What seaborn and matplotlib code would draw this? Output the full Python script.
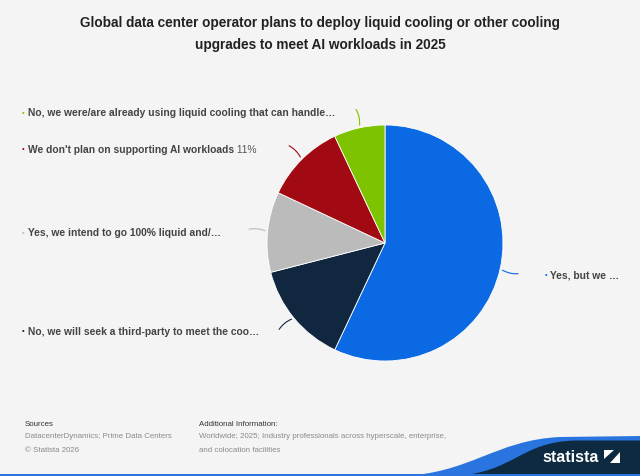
import numpy as np
import matplotlib.pyplot as plt
from matplotlib.path import Path
from matplotlib.patches import PathPatch, Rectangle, Polygon
import seaborn as sns

# Data (shares in %)
categories = [
    "Yes, but we …",
    "No, we will seek a third-party to meet the coo…",
    "Yes, we intend to go 100% liquid and/…",
    "We don't plan on supporting AI workloads",
    "No, we were/are already using liquid cooling that can handle…",
]
shares = [57, 14, 11, 11, 7]
show_value = [False, False, False, True, False]
slice_colors = ["#0a69e3", "#11263f", "#bbbbbb", "#a10a12", "#7dc300"]

title = ("Global data center operator plans to deploy liquid cooling or other cooling\n"
         "upgrades to meet AI workloads in 2025")

sns.set_theme(style="white")
plt.rcParams["font.family"] = ["Liberation Sans", "DejaVu Sans"]

bg = "#f4f4f4"
fig = plt.figure(figsize=(6.4, 4.76), dpi=100, facecolor=bg)

# full-figure pixel axes for decoration (footer, wave, labels)
deco = fig.add_axes([0, 0, 1, 1], zorder=0)
deco.set_xlim(0, 640)
deco.set_ylim(476, 0)
deco.axis("off")

# Pie axes: centre ~ (385, 243) px, radius ~118 px
cx, cy, r = 385, 243, 118
ax = fig.add_axes([(cx - r) / 640, (476 - cy - r) / 476, 2 * r / 640, 2 * r / 476], zorder=2)
palette = sns.color_palette(slice_colors)
wedges, _ = ax.pie(
    shares,
    colors=palette,
    startangle=90,
    counterclock=False,
    radius=1,
    wedgeprops=dict(edgecolor="white", linewidth=0.6),
)
ax.set_xlim(-1, 1)
ax.set_ylim(-1, 1)
ax.set_aspect("equal")
ax.axis("off")

# Leader lines from wedge middles
for w, col in zip(wedges, slice_colors):
    ang = np.deg2rad((w.theta1 + w.theta2) / 2)
    x0, y0 = np.cos(ang), np.sin(ang)
    ax.annotate(
        "", xy=(1.18 * x0, 1.18 * y0), xytext=(1.0 * x0, 1.0 * y0),
        arrowprops=dict(arrowstyle="-", color=col, lw=0.8,
                        connectionstyle="arc3,rad=0.2"),
        annotation_clip=False,
    )

# Labels (layout in pixel positions, order same as categories)
label_x = [545, 22, 22, 22, 22]
label_y = [275, 332, 233, 150, 113]
text_col = "#444444"
for cat, val, show, col, lx, ly in zip(categories, shares, show_value,
                                       slice_colors, label_x, label_y):
    deco.text(lx, ly, "•", color=col, fontsize=5.5, va="center", ha="left")
    t = deco.text(lx + 5.5, ly, cat, color=text_col, fontsize=7.35,
                  fontweight="bold", va="center", ha="left")
    if show:
        deco.annotate(f" {val}%", xy=(1, 0.5), xycoords=t, va="center",
                      ha="left", fontsize=7.35, color="#555555")

# Title
fig.text(0.5, 1 - 16 / 476, title, ha="center", va="top", fontsize=9.85,
         fontweight="bold", color="#222222", linespacing=1.7)

# Footer texts
fs = 5.7
deco.text(25, 425, "Sources", fontsize=fs, color="#333333", va="center")
deco.text(25, 437, "DatacenterDynamics; Prime Data Centers", fontsize=fs,
          color="#8a8a8a", va="center")
deco.text(25, 450, "© Statista 2026", fontsize=fs, color="#8a8a8a", va="center")
deco.text(199, 425, "Additional Information:", fontsize=fs, color="#333333", va="center")
deco.text(199, 437, "Worldwide; 2025; Industry professionals across hyperscale, enterprise,",
          fontsize=fs, color="#8a8a8a", va="center")
deco.text(199, 450, "and colocation facilities", fontsize=fs, color="#8a8a8a", va="center")

# Statista wave
blue_wave = Path(
    [(400, 476), (470, 474), (495, 440), (560, 437), (640, 436), (640, 476), (400, 476)],
    [Path.MOVETO, Path.CURVE4, Path.CURVE4, Path.CURVE4, Path.LINETO, Path.LINETO, Path.CLOSEPOLY],
)
deco.add_patch(PathPatch(blue_wave, facecolor="#2a74e0", edgecolor="none"))
navy_wave = Path(
    [(455, 476), (515, 472), (520, 442), (575, 440.5), (640, 440.5), (640, 476), (455, 476)],
    [Path.MOVETO, Path.CURVE4, Path.CURVE4, Path.CURVE4, Path.LINETO, Path.LINETO, Path.CLOSEPOLY],
)
deco.add_patch(PathPatch(navy_wave, facecolor="#0d2a40", edgecolor="none"))
deco.add_patch(Rectangle((0, 473.5), 640, 3, facecolor="#2a74e0", edgecolor="none"))

deco.text(571, 457, "statista", color="white", fontsize=11.5, fontweight="bold",
          ha="center", va="center")
deco.add_patch(Rectangle((604, 450), 16, 13, facecolor="white", edgecolor="none"))
deco.add_patch(Polygon([(604, 463), (604, 459), (614, 450), (620, 450), (620, 452), (610, 463)],
                       facecolor="#0d2a40", edgecolor="none"))

fig.savefig("out.png", dpi=100, facecolor=bg)
